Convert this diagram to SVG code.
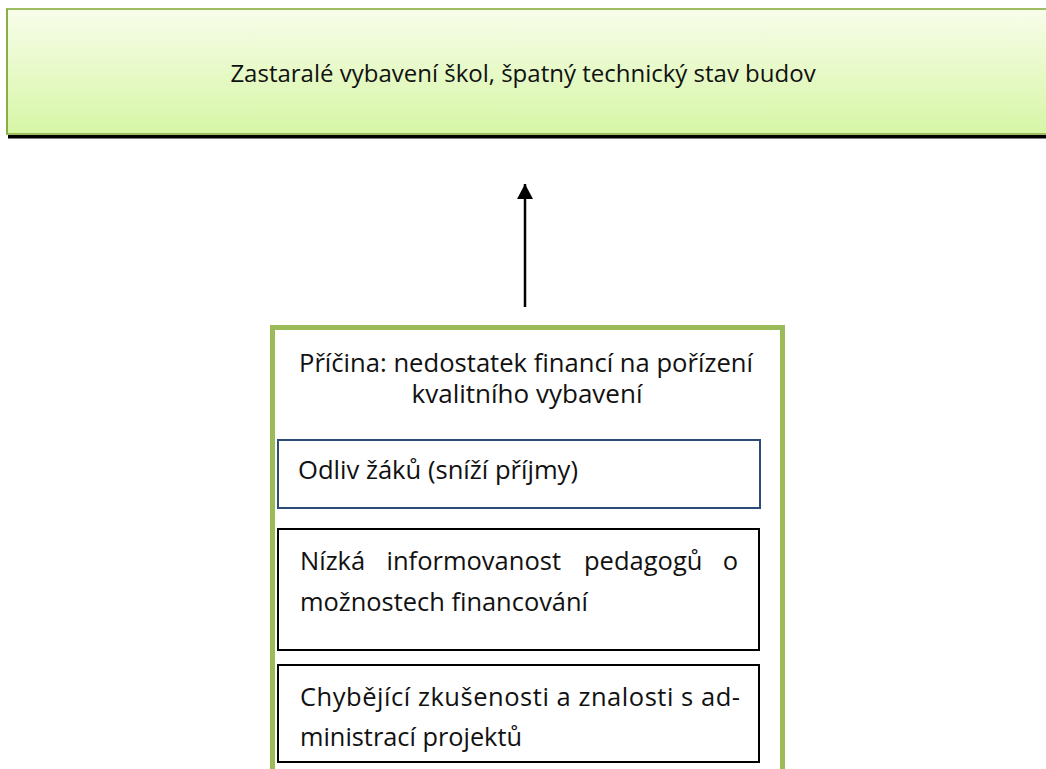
<svg xmlns="http://www.w3.org/2000/svg" width="1046" height="769" viewBox="0 0 1046 769">
  <defs>
    <linearGradient id="topGrad" x1="0" y1="0" x2="0" y2="1">
      <stop offset="0" stop-color="#f8fdea"/>
      <stop offset="1" stop-color="#d6f6a5"/>
    </linearGradient>
    <marker id="arrowHead" markerUnits="userSpaceOnUse" markerWidth="16" markerHeight="16" viewBox="0 0 16 16" refX="15" refY="8" orient="auto">
      <path d="M0,0 L15,8 L0,16 Z" fill="#000"/>
    </marker>
  </defs>
  <style>
    text { font-family: "Open Sans", "Liberation Sans", sans-serif; fill: #111; }
    .t25 { font-size: 25.5px; }
    .t24 { font-size: 24px; }
    .box { fill: #fff; stroke: #000; stroke-width: 2; }
    .boxBlue { fill: #fff; stroke: #2d4b79; stroke-width: 2; }
    .outer { fill: #fff; stroke: #9bbb59; stroke-width: 5; }
    .conn { stroke: #000; stroke-width: 2.5; fill: none; }
  </style>
  <rect width="1046" height="769" fill="#fff"/>

  <g id="effect">
    <rect x="8" y="135" width="1040" height="3.5" fill="#000"/>
    <rect x="7" y="9" width="1045" height="125" fill="url(#topGrad)" stroke="#9dbd62" stroke-width="2"/>
    <line x1="7" y1="9" x2="7" y2="134" stroke="#8aad4a" stroke-width="2"/>
    <text class="t24" x="523" y="82" text-anchor="middle">Zastaralé vybavení škol, špatný technický stav budov</text>
  </g>

  <g id="connectors">
    <line class="conn" x1="525" y1="307" x2="525" y2="184" marker-end="url(#arrowHead)"/>
  </g>

  <g id="cause">
    <rect class="outer" x="272.5" y="327.5" width="510" height="480"/>
    <text class="t25" x="526" y="372" text-anchor="middle" textLength="454" lengthAdjust="spacingAndGlyphs">Příčina: nedostatek financí na pořízení</text>
    <text class="t25" x="527" y="403" text-anchor="middle" textLength="231" lengthAdjust="spacingAndGlyphs">kvalitního vybavení</text>
  </g>

  <g id="factor1">
    <rect class="boxBlue" x="278" y="440" width="482" height="68"/>
    <text class="t25" x="298" y="479" textLength="280" lengthAdjust="spacingAndGlyphs">Odliv žáků (sníží příjmy)</text>
  </g>

  <g id="factor2">
    <rect class="box" x="278" y="529" width="481" height="121"/>
    <text class="t25" y="570"><tspan x="300">Nízká</tspan><tspan x="386.5">informovanost</tspan><tspan x="584">pedagogů</tspan><tspan x="738" text-anchor="end">o</tspan></text>
    <text class="t25" x="300" y="611" textLength="288" lengthAdjust="spacingAndGlyphs">možnostech financování</text>
  </g>

  <g id="factor3">
    <rect class="box" x="278" y="665" width="481" height="97"/>
    <text class="t25" x="300" y="706" textLength="440" lengthAdjust="spacing">Chybějící zkušenosti a znalosti s ad-</text>
    <text class="t25" x="300" y="746" textLength="222" lengthAdjust="spacingAndGlyphs">ministrací projektů</text>
  </g>
</svg>
